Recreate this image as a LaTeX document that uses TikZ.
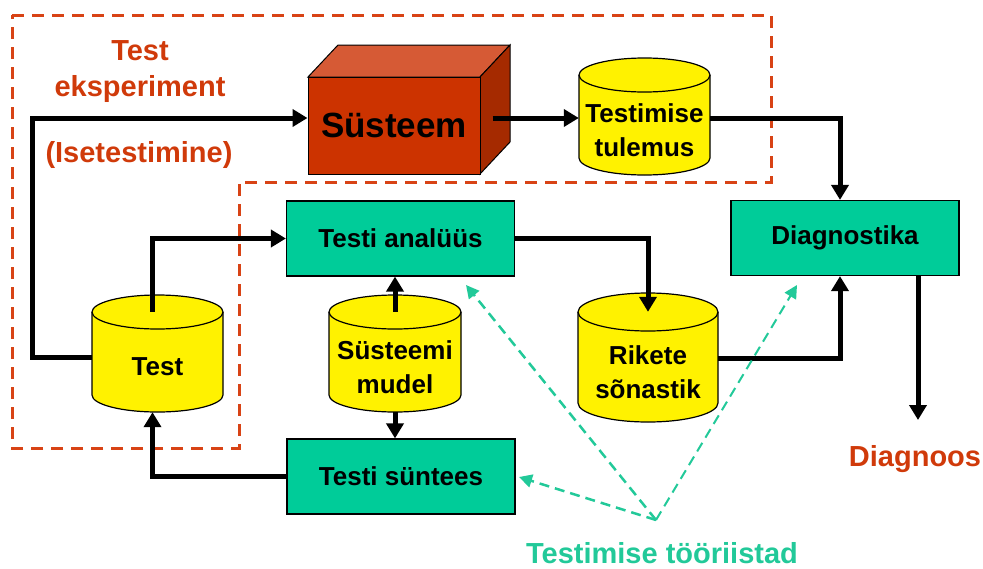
\documentclass[tikz,border=0pt]{standalone}
\usepackage{fontspec}
\setmainfont{Liberation Sans}
\usetikzlibrary{arrows.meta,calc}
\definecolor{dashor}{HTML}{D84315}
\definecolor{ortxt}{HTML}{D03A0A}
\definecolor{cubefront}{HTML}{CC3300}
\definecolor{cubetop}{HTML}{D65A35}
\definecolor{cubeside}{HTML}{A52A00}
\definecolor{boxc}{HTML}{00CC99}
\definecolor{toolc}{HTML}{22C999}
\newcommand\mycyl[7]{%
  \filldraw[cylshape] (#2-#5,-#3) -- (#2-#5,-#4) arc[start angle=180,end angle=360,x radius=#5,y radius=#6] -- (#2+#5,-#3) arc[start angle=0,end angle=180,x radius=#5,y radius=#6] -- cycle;
  \draw[cylshape,fill=none] (#2-#5,-#3) arc[start angle=180,end angle=360,x radius=#5,y radius=#6];
  \node[inner sep=0pt,minimum width=2*#5,minimum height=#4+#6-#3] (#1) at (#2,{-(#3+#4+#6)/2}) {};
  \node[cyltxt] (#1-t) at ($(#1)+(0,-5)$) {#7};
}
\begin{document}
\begin{tikzpicture}[x=1pt,y=1pt,
  conn/.style={line width=5pt,-{Triangle[length=15pt,width=17pt]}},
  tool/.style={draw=toolc,line width=2.5pt,dash pattern=on 10pt off 6pt,-{Triangle[length=13pt,width=13pt]}},
  box/.style={draw=black,line width=1.2pt,fill=boxc,minimum width=228pt,minimum height=75pt,inner sep=0pt,font=\bfseries\fontsize{26}{30}\selectfont},
  cyltxt/.style={inner sep=0pt,align=center,font=\bfseries\fontsize{26}{34}\selectfont},
  cylshape/.style={fill=yellow,draw=black,line width=1.2pt},
  lbl/.style={text=ortxt,inner sep=0pt,align=center,font=\bfseries\fontsize{29}{36}\selectfont}
]
\useasboundingbox (0,0) rectangle (983,-568);
% dashed region
\draw[dashor,line width=3pt,dash pattern=on 12pt off 8pt] (12,-15) -- (771,-15) -- (771,-182) -- (239,-182) -- (239,-448) -- (12,-448) -- cycle;
% cube
\filldraw[fill=cubetop,draw=black,line width=1pt] (308,-77) -- (338,-45) -- (510,-45) -- (480,-77) -- cycle;
\filldraw[fill=cubeside,draw=black,line width=1pt] (480,-77) -- (510,-45) -- (510,-142) -- (480,-174) -- cycle;
\node[draw=black,line width=1pt,fill=cubefront,minimum width=172pt,minimum height=97pt,inner sep=0pt,font=\bfseries\fontsize{35}{38}\selectfont] (sys) at (394,-125.5) {Süsteem};
% cylinders
\mycyl{tt}{644.5}{75}{158}{65.5}{17}{Testimise\\tulemus}
\mycyl{tc}{157.5}{312}{395}{65.5}{17}{Test}
\mycyl{sm}{395}{312}{395}{66}{17}{Süsteemi\\mudel}
\mycyl{rs}{648}{312}{403}{70}{19}{Rikete\\sõnastik}
% boxes
\node[box] (ta) at (400.5,-238.5) {Testi analüüs};
\node[box] (ts) at (401,-476.5) {Testi süntees};
\node[box] (dg) at (845,-238) {Diagnostika};
% connectors
\coordinate (lp) at (32,-118);
\draw[conn] ([yshift=5pt]tc.west) -| (lp) -- (sys.west |- lp);
\draw[conn] ([xshift=-5pt]tc.north) |- (ta.west);
\draw[conn] ($(sys.east)+(12,7.5)$) coordinate (s3) -- (tt.west |- s3);
\draw[conn] (tt.east |- s3) -| ([xshift=-5pt]dg.north);
\draw[conn] (ta.east) -| (rs.north);
\draw[conn] ([yshift=9pt]rs.east) -| ([xshift=-5pt]dg.south);
\coordinate (dout) at (918,-420);
\draw[conn] (dg.south -| dout) -- (dout);
\draw[conn] (sm.north) -- (sm.north |- ta.south);
\draw[conn] (sm.south) -- (sm.south |- ts.north);
\draw[conn] (ts.west) -| ([xshift=-5pt]tc.south);
% tool arrows
\coordinate (tool) at (656,-520);
\coordinate (t1) at (466,-285);
\coordinate (t2) at (519,-477);
\coordinate (t3) at (797,-285);
\draw[tool] (tool) -- (t1);
\draw[tool] (tool) -- (t2);
\draw[tool,line width=2pt] (tool) -- (t3);
% labels
\node[lbl] (lexp) at (140,-72) {Test\\eksperiment};
\node[lbl] (liset) at (139,-155) {(Isetestimine)};
\node[lbl] (ldiag) at (915,-459) {Diagnoos};
\node[lbl,text=toolc] (ltool) at (662,-553) {Testimise tööriistad};
\end{tikzpicture}
\end{document}
